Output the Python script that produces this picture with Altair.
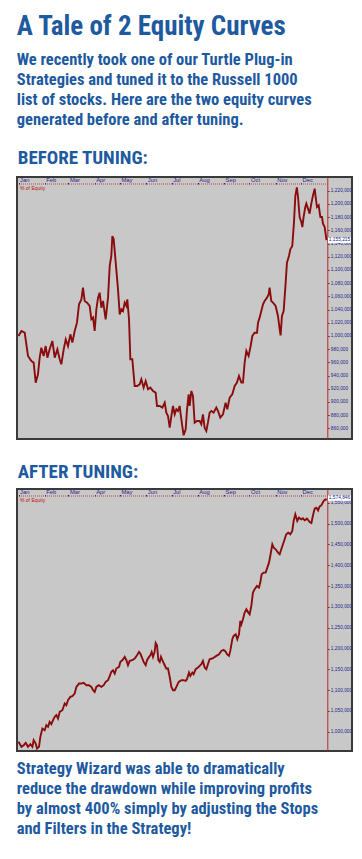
import json
import altair as alt
import pandas as pd

# ---------------- text ----------------
title_text = "A Tale of 2 Equity Curves"
intro_lines = [
    "We recently took one of our Turtle Plug-in",
    "Strategies and tuned it to the Russell 1000",
    "list of stocks. Here are the two equity curves",
    "generated before and after tuning.",
]
before_title = "BEFORE TUNING:"
after_title = "AFTER TUNING:"
outro_lines = [
    "Strategy Wizard was able to dramatically",
    "reduce the drawdown while improving profits",
    "by almost 400% simply by adjusting the Stops",
    "and Filters in the Strategy!",
]
series_name = "% of Equity"

months = ["Jan", "Feb", "Mar", "Apr", "May", "Jun", "Jul", "Aug", "Sep", "Oct", "Nov", "Dec"]
month_start_days = [0, 31, 59, 90, 120, 151, 181, 212, 243, 273, 304, 334]

# ---------------- data (day of year, equity in $1000) ----------------
before_days = [
    0, 3.4, 7.3, 11.2, 15.2, 17.9, 20.3, 23.0, 25.0, 27.0, 29.7, 32.1, 34.1, 36.8, 40.0, 42.8,
    45.9, 48.7, 50.6, 53.4, 55.8, 58.5, 61.3, 63.6, 66.4, 69.1, 71.5, 74.3, 76.2, 78.2, 81.0,
    84.1, 86.1, 88.1, 90.0, 92.0, 94.0, 95.9, 97.9, 99.9, 103.0, 105.8, 107.8, 109.7, 110.9,
    112.5, 114.9, 117.6, 119.6, 121.6, 123.5, 125.5, 127.5, 128.6, 130.6, 132.2, 134.5, 137.3,
    140.1, 143.2, 145.2, 147.9, 150.3, 153.1, 155.8, 159.0, 162.1, 163.7, 166.9, 170.0, 172.8,
    174.7, 176.7, 178.7, 180.7, 182.6, 184.6, 186.6, 188.5, 190.5, 191.7, 193.3, 195.2, 197.6,
    199.2, 201.1, 202.3, 204.3, 206.2, 208.2, 211.0, 214.1, 216.1, 218.0, 220.0, 222.0, 223.9,
    225.9, 227.9, 230.6, 233.8, 235.8, 238.5, 241.7, 244.8, 246.8, 249.6, 252.7, 255.5, 258.2,
    260.6, 263.4, 265.3, 267.3, 269.3, 272.0, 274.4, 276.4, 279.1, 281.9, 283.1, 285.0, 287.0,
    289.0, 290.9, 293.7, 295.7, 296.8, 298.8, 300.8, 303.9, 306.7, 308.7, 309.8, 311.4, 313.4,
    315.4, 317.3, 319.7, 321.3, 323.6, 325.6, 327.2, 329.0, 330.4, 332.3, 334.3, 335.5, 337.0,
    339.0, 340.2, 342.2, 344.1, 346.1, 348.1, 350.1, 351.2, 352.8, 354.8, 356.8, 358.7, 359.9,
    361.9, 363.0, 364.0,
]
before_equity_k = [
    1000.0, 1007.5, 1005.0, 969.6, 962.0, 959.5, 929.2, 941.8, 967.1, 982.2, 969.6, 984.7, 967.1,
    979.7, 992.3, 967.1, 979.7, 964.6, 957.0, 979.7, 994.9, 984.7, 1002.4, 989.8, 1007.5, 1020.1,
    1047.9, 1055.4, 1073.1, 1052.9, 1050.4, 1045.4, 1025.2, 1027.7, 1007.5, 1040.3, 1058.0,
    1065.5, 1042.8, 1052.9, 1025.2, 1058.0, 1106.0, 1121.1, 1151.4, 1146.4, 1111.0, 1070.6,
    1032.7, 1040.3, 1037.8, 1050.4, 1045.4, 1055.4, 1025.2, 964.6, 964.6, 924.2, 924.2, 926.7,
    934.3, 921.6, 931.7, 919.1, 921.6, 916.6, 914.0, 893.9, 893.9, 891.3, 898.9, 883.8, 878.7,
    861.0, 878.7, 893.9, 881.2, 888.8, 886.3, 893.9, 881.2, 866.1, 849.4, 858.5, 888.8, 911.5,
    893.9, 916.6, 909.0, 868.6, 871.1, 871.1, 866.1, 881.2, 861.0, 856.0, 868.6, 883.8, 886.3,
    883.8, 891.3, 886.3, 876.2, 881.2, 898.9, 888.8, 906.5, 911.5, 924.2, 929.2, 939.3, 929.2,
    929.2, 959.5, 977.2, 969.6, 984.7, 999.9, 1004.9, 1004.9, 1020.1, 1027.7, 1037.8, 1047.9,
    1052.9, 1058.0, 1063.0, 1073.1, 1052.9, 1050.4, 1045.4, 1030.2, 1010.0, 1000.9, 1030.2,
    1037.8, 1073.1, 1111.0, 1121.1, 1131.2, 1136.2, 1171.6, 1212.0, 1225.0, 1210.5, 1180.2,
    1172.6, 1165.0, 1180.2, 1195.4, 1200.4, 1192.8, 1185.3, 1200.4, 1213.0, 1223.1, 1210.5,
    1195.4, 1197.9, 1180.2, 1180.2, 1170.1, 1165.0, 1155.0, 1145.0,
]

after_days = [
    0, 3.4, 6.1, 8.5, 11.2, 14.0, 16.4, 17.9, 20.3, 21.9, 24.2, 25.8, 28.2, 30.9, 32.9, 34.9,
    36.8, 38.8, 40.8, 42.8, 44.7, 46.7, 48.7, 51.8, 54.6, 56.5, 58.5, 61.3, 63.6, 66.4, 68.4,
    71.5, 74.3, 77.0, 80.2, 83.3, 86.1, 88.1, 90.0, 92.0, 94.8, 97.9, 100.7, 103.0, 105.8, 107.8,
    109.7, 111.7, 113.7, 115.6, 118.8, 120.4, 122.7, 125.5, 127.5, 129.4, 131.4, 134.5, 137.3,
    140.1, 142.4, 144.0, 146.4, 147.9, 150.3, 151.9, 154.3, 155.8, 157.4, 159.0, 160.9, 162.1,
    163.7, 165.3, 166.9, 168.4, 170.0, 172.8, 174.7, 176.7, 178.7, 180.7, 182.6, 184.6, 186.6,
    189.3, 192.5, 195.2, 197.6, 199.1, 201.5, 203.1, 205.4, 207.0, 209.4, 212.1, 214.1, 216.1,
    218.0, 220.0, 222.0, 223.9, 225.9, 229.9, 233.8, 237.0, 239.7, 242.5, 244.8, 246.4, 248.8,
    250.3, 252.7, 254.3, 256.7, 258.6, 260.6, 262.2, 263.4, 265.3, 267.3, 269.3, 271.6, 273.2,
    275.2, 277.1, 279.1, 281.9, 284.2, 285.8, 287.4, 289.7, 292.1, 294.1, 296.1, 297.6, 300.0,
    301.6, 304.0, 306.7, 308.7, 310.6, 312.6, 314.6, 316.5, 318.9, 321.3, 323.6, 325.2, 327.2,
    328.4, 329.5, 331.5, 334.3, 336.2, 338.3, 341.0, 344.2, 346.2, 348.1, 350.1, 352.1, 354.1,
    356.0, 358.0, 360.0, 361.9, 363.1, 364.0,
]
after_equity_k = [
    975.9, 963.9, 967.9, 973.5, 963.9, 970.3, 963.9, 979.9, 971.9, 959.9, 963.9, 987.9, 1007.9,
    1003.9, 1015.9, 1011.9, 1023.9, 1018.3, 1027.9, 1035.9, 1039.9, 1031.9, 1047.9, 1051.9,
    1067.9, 1063.9, 1075.9, 1083.9, 1085.5, 1091.9, 1107.9, 1115.9, 1115.9, 1117.5, 1111.9,
    1111.9, 1107.9, 1099.9, 1095.9, 1107.9, 1111.9, 1107.9, 1111.9, 1119.9, 1123.9, 1133.5,
    1143.9, 1147.9, 1139.9, 1151.9, 1155.9, 1167.9, 1171.9, 1179.9, 1171.9, 1159.9, 1170.3,
    1171.9, 1175.9, 1183.9, 1191.9, 1187.9, 1175.9, 1167.9, 1159.9, 1171.9, 1179.9, 1183.9,
    1191.9, 1179.9, 1191.9, 1213.5, 1207.9, 1171.9, 1167.9, 1179.9, 1171.9, 1159.9, 1151.9,
    1151.9, 1131.9, 1107.9, 1099.9, 1099.9, 1107.9, 1119.9, 1123.9, 1123.9, 1122.3, 1126.3,
    1142.3, 1134.3, 1142.3, 1138.3, 1150.3, 1154.3, 1158.3, 1162.3, 1170.3, 1154.3, 1150.3,
    1162.3, 1174.3, 1176.7, 1182.3, 1186.3, 1194.3, 1196.7, 1192.7, 1186.3, 1182.3, 1194.3,
    1222.3, 1230.3, 1234.3, 1222.3, 1234.3, 1266.3, 1258.3, 1270.3, 1286.3, 1294.3, 1286.3,
    1282.3, 1302.3, 1334.3, 1342.3, 1350.3, 1346.3, 1358.3, 1378.3, 1382.3, 1382.3, 1394.3,
    1406.3, 1422.3, 1450.3, 1442.3, 1438.3, 1430.3, 1426.3, 1438.3, 1450.3, 1462.3, 1474.3,
    1478.3, 1474.3, 1482.3, 1506.3, 1522.3, 1514.3, 1506.3, 1514.3, 1510.3, 1512.7, 1507.9,
    1511.9, 1503.9, 1501.5, 1519.9, 1535.9, 1538.3, 1531.9, 1541.5, 1543.9, 1551.9, 1557.5,
    1558.3, 1556.0,
]

before_ticks = list(range(860000, 1220001, 20000))
after_ticks = list(range(1000000, 1550001, 50000))
before_last_label = "1,155,215"
after_last_label = "1,574,846"

# ---------------- styling ----------------
FONT = "'Roboto Condensed', Roboto, sans-serif"
SMALL_FONT = "Liberation Sans, sans-serif"
BLUE = "#1e5aa0"
NAVY = "#26268c"
CURVE = "#8a0c0c"
AXIS_RED = "#b22a2a"
PANEL = "#c8c8c8"
W, H = 335, 262
X_DOMAIN = [-1.8, 394.2]
END_DAY = 365
AXIS_OFFSET = -24.7
BOX_SHAPE = "M-4.2,-1L4.2,-1L4.2,1L-4.2,1Z"


def month_label_expr(values):
    return f"{json.dumps(months)}[indexof({json.dumps(values)}, datum.value)]"


def equity_chart(days, eq_k, y_domain, y_ticks, last_label, title, title_offset, label_dy):
    df = pd.DataFrame({"day": days, "equity": [v * 1000 for v in eq_k]})
    x_enc = alt.X(
        "day:Q",
        scale=alt.Scale(domain=X_DOMAIN, nice=False, zero=False),
        axis=alt.Axis(
            orient="top", offset=-7, values=month_start_days,
            labelExpr=month_label_expr(month_start_days), tickCount=100, title=None,
            grid=False, domain=False, ticks=True, tickSize=1.5, tickColor=NAVY,
            labelAlign="left", labelOffset=1, labelPadding=0, labelFontSize=5.8,
            labelColor=NAVY, labelFont=SMALL_FONT, labelFlush=False, labelOverlap=False,
            labelBound=False,
        ),
    )
    y_enc = alt.Y(
        "equity:Q",
        scale=alt.Scale(domain=y_domain, nice=False, zero=False),
        axis=alt.Axis(
            orient="right", offset=AXIS_OFFSET, values=y_ticks, tickCount=100, format=",d",
            title=None, grid=False, domain=True, domainColor=AXIS_RED, domainWidth=1,
            ticks=True, tickSize=2, tickColor=AXIS_RED, labelPadding=1, labelFontSize=4.8,
            labelColor=NAVY, labelFont=SMALL_FONT, labelOverlap=False, labelFlush=False,
            labelBound=False,
        ),
    )
    line = alt.Chart(df).mark_line(color=CURVE, strokeWidth=1.9).encode(x=x_enc, y=y_enc)

    header_rule = alt.Chart(pd.DataFrame({"k": [0]})).mark_rule(
        color=AXIS_RED, strokeDash=[1, 1], strokeWidth=0.8
    ).encode(x=alt.datum(X_DOMAIN[0]), x2=alt.datum(END_DAY), y=alt.value(7))

    legend_txt = alt.Chart(pd.DataFrame({"label": [series_name]})).mark_text(
        align="left", baseline="middle", fontSize=5, font=SMALL_FONT, color="#c01010"
    ).encode(x=alt.value(3), y=alt.value(10.5), text="label:N")

    last_df = pd.DataFrame({"day": [days[-1]], "equity": [eq_k[-1] * 1000], "label": [last_label]})
    box = alt.Chart(last_df).mark_point(
        shape=BOX_SHAPE, filled=True, fill="white", strokeWidth=0, opacity=1, size=30
    ).encode(x=alt.value(W - 12.5), y="equity:Q", yOffset=alt.value(label_dy))
    box_txt = alt.Chart(last_df).mark_text(
        align="center", baseline="middle", fontSize=4.8, font=SMALL_FONT, color=NAVY,
        dy=label_dy,
    ).encode(x=alt.value(W - 12.5), y="equity:Q", text="label:N")

    return alt.layer(line, header_rule, legend_txt, box, box_txt).properties(
        width=W, height=H,
        title=alt.TitleParams(
            text=title, anchor="start", font=FONT, fontSize=19, fontWeight="bold",
            color=BLUE, offset=title_offset, dx=3,
        ),
    )


before = equity_chart(
    before_days, before_equity_k, [843800, 1240800], before_ticks, before_last_label,
    before_title, 8.7, 0,
)
after = equity_chart(
    after_days, after_equity_k, [953900, 1583150], after_ticks, after_last_label,
    after_title, 6.5, -2.2,
)

inner = alt.vconcat(before, after, spacing=21).properties(
    title=alt.TitleParams(
        text=title_text, subtitle=intro_lines, anchor="start", font=FONT, fontSize=27,
        fontWeight="bold", color=BLUE, subtitleFont=FONT, subtitleFontSize=16.5,
        subtitleFontWeight="bold", subtitleColor=BLUE, subtitleLineHeight=20,
        subtitlePadding=11.5, offset=18, dx=3,
    )
)

chart = alt.vconcat(inner).properties(
    title=alt.TitleParams(
        text=outro_lines, orient="bottom", anchor="start", font=FONT, fontSize=16.5,
        fontWeight="bold", color=BLUE, lineHeight=20, offset=8, dx=3,
    ),
    padding={"left": 5, "top": 4, "right": 0, "bottom": 0},
    background="white",
).configure_view(
    fill=PANEL, stroke="#3a3a3a", strokeWidth=2
)

chart.save("out.html", embed_options={"renderer": "svg", "actions": False})
